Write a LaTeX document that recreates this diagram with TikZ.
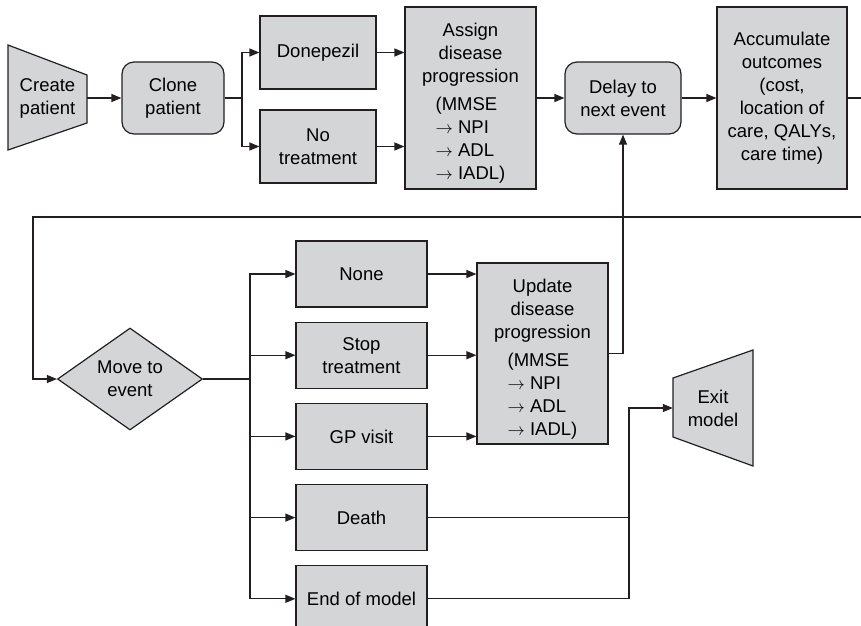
\documentclass[tikz,border=0pt]{standalone}
\usepackage{fontspec}
\setmainfont{Liberation Sans}
\usepackage{xcolor}
\definecolor{boxgray}{HTML}{D4D5D7}
\definecolor{inkline}{HTML}{231F20}
\usetikzlibrary{arrows.meta,positioning,shapes.geometric}
\tikzset{
  nb/.style={draw=inkline, fill=boxgray, line width=1.2pt, align=center,
             font=\fontsize{18.5}{23}\selectfont, inner sep=2pt},
  nbox/.style={nb, minimum width=131pt, minimum height=66pt},
  nround/.style={nb, rounded corners=12pt, minimum height=72pt},
  ndiam/.style={nb, diamond, minimum width=145pt, minimum height=102pt, inner sep=0pt},
  nshape/.style={draw=inkline, fill=boxgray, line width=1.2pt},
  ntext/.style={align=center, font=\fontsize{18.5}{23}\selectfont, inner sep=0pt},
  ln/.style={draw=inkline, line width=1.2pt},
  ar/.style={ln, -{Triangle[length=10pt,width=8pt]}},
}
\newcommand{\progtext}[1]{\rule{0pt}{27pt}#1\\disease\\progression\\[5pt]%
  \begin{tabular}[t]{@{}l@{}}(MMSE\\$\rightarrow$ NPI\\$\rightarrow$ ADL\\$\rightarrow$ IADL)\end{tabular}}

\begin{document}
\begin{tikzpicture}[x=1pt, y=-1pt]
  \useasboundingbox (0,0) rectangle (861,625);
  \clip (0,0) rectangle (861,625);

  % top row
  \draw[nshape] (8,45) -- (87,75) -- (87,123) -- (8,150) -- cycle;
  \node[ntext, minimum width=79pt] (create) at (47.5,98) {Create\\patient};
  \node[nround, minimum width=102pt] (clone) at (173,98) {Clone\\patient};
  \node[nb, minimum width=116pt, minimum height=73pt] (done) at (318,52.5) {Donepezil};
  \node[nb, minimum width=116pt, minimum height=73pt] (notr) at (318,146.5) {No\\treatment};
  \node[nb, minimum width=131pt, minimum height=182pt] (assign) at (470.5,98) {\progtext{Assign}};
  \node[nround, minimum width=116pt] (delay) at (623,98) {Delay to\\next event};
  \node[nb, minimum width=130pt, minimum height=182pt] (accum) at (782,98)
    {Accumulate\\outcomes\\(cost,\\location of\\care, QALYs,\\care time)};

  % bottom part
  \node[ndiam] (move) at (130,379) {Move to\\event};
  \node[nbox] (none) at (361.5,274) {None};
  \node[nbox, below=14pt of none] (stop) {Stop\\treatment};
  \node[nbox, below=14pt of stop] (gp) {GP visit};
  \node[nbox, below=14pt of gp] (death) {Death};
  \node[nbox, below=14pt of death] (eom) {End of model};
  \node[nb, minimum width=131pt, minimum height=181pt] (update) at (542.5,353.5) {\progtext{Update}};
  \draw[nshape] (673,378) -- (753,350) -- (753,466) -- (673,437) -- cycle;
  \node[ntext, minimum width=80pt] (exit) at (713,408) {Exit\\model};

  \coordinate (split1) at (242,98);
  \coordinate (split2) at (250,379);
  \coordinate (merge) at (629,408);

  % connectors
  \draw[ar] (create.east) -- (clone.west);
  \draw[ln] (clone.east) -- (split1);
  \draw[ar] (split1) |- (done.west);
  \draw[ar] (split1) |- (notr.west);
  \draw[ar] (done.east) -- (done.east -| assign.west);
  \draw[ar] (notr.east) -- (notr.east -| assign.west);
  \draw[ar] (assign.east) -- (delay.west);
  \draw[ar] (delay.east) -- (accum.west);
  \draw[ar] (accum.east) -- ++(30,0) |- (33,217) |- (move.west);

  \draw[ln] (move.east) -- (split2);
  \foreach \ev in {none,stop,gp,death,eom}
    \draw[ar] (split2) |- (\ev.west);
  \foreach \ev in {none,stop,gp}
    \draw[ar] (\ev.east) -- (\ev.east -| update.west);
  \draw[ar] (update.east) -| (delay.south);
  \draw[ln] (death.east) -| (merge);
  \draw[ar] (eom.east) -| (merge) -- (exit.west);
\end{tikzpicture}
\end{document}
